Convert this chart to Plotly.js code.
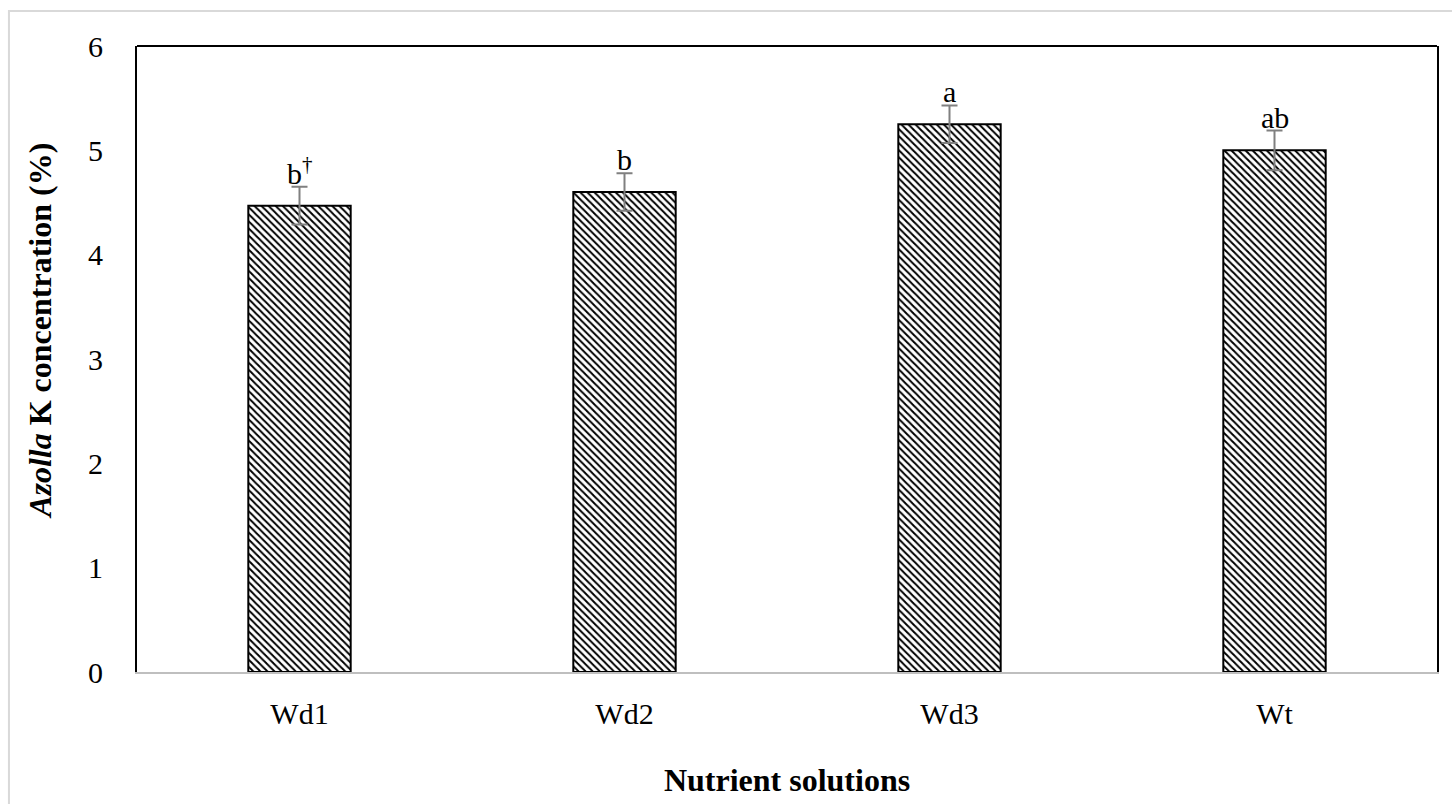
<!DOCTYPE html>
<html>
<head>
<meta charset="utf-8">
<script src="https://cdn.plot.ly/plotly-3.0.1.min.js"></script>
<style>html,body{margin:0;padding:0;background:#fff;}#chart{width:1452px;height:804px;}</style>
</head>
<body>
<div id="chart"></div>
<script>
const categories = ["Wd1", "Wd2", "Wd3", "Wt"];
const kValues = [4.47, 4.60, 5.25, 5.00];
const kErrors = [0.18, 0.18, 0.18, 0.19];
const letters = ["b<sup>†</sup>", "b", "a", "ab"];
const yTicks = [0, 1, 2, 3, 4, 5, 6];

const font = "'Liberation Serif', 'Times New Roman', serif";

const trace = {
  type: "bar",
  x: categories,
  y: kValues,
  width: 0.315,
  marker: {
    color: "#ffffff",
    line: {color: "#000000", width: 2},
    pattern: {shape: "\\", fgcolor: "#000000", bgcolor: "#ffffff", size: 5, solidity: 0.4}
  },
  error_y: {type: "data", array: kErrors, visible: true, color: "#808080", thickness: 2, width: 8},
  hoverinfo: "skip"
};

const annotations = categories.map((c, i) => ({
  x: c, y: kValues[i] + kErrors[i], xref: "x", yref: "y",
  text: letters[i], showarrow: false, yanchor: "bottom", yshift: -5,
  font: {family: font, size: 30, color: "#000"}
}));

annotations.push({
  xref: "paper", yref: "paper", x: -0.0746, y: 0.545,
  xanchor: "center", yanchor: "middle", textangle: -90, showarrow: false,
  text: "<i><b>Azolla</b></i><b> K concentration (%)</b>",
  font: {family: font, size: 32, color: "#000"}
});

const layout = {
  width: 1452, height: 804,
  margin: {l: 137, r: 15, t: 46, b: 132},
  paper_bgcolor: "#ffffff", plot_bgcolor: "#ffffff",
  showlegend: false,
  font: {family: font, size: 30, color: "#000"},
  xaxis: {
    type: "category",
    showline: true, linecolor: "#bfbfbf", linewidth: 2,
    ticks: "", ticklabelstandoff: 14,
    tickfont: {family: font, size: 30, color: "#000"},
    title: {text: "<b>Nutrient solutions</b>", font: {family: font, size: 32, color: "#000"}, standoff: 40}
  },
  yaxis: {
    range: [0, 6], tickvals: yTicks, ticktext: yTicks.map(String),
    showgrid: false, zeroline: false,
    showline: true, linecolor: "#000000", linewidth: 2, mirror: true,
    ticks: "", ticklabelstandoff: 26,
    tickfont: {family: font, size: 30, color: "#000"}
  },
  annotations: annotations,
  shapes: [
    {type: "line", xref: "paper", yref: "paper", x0: 0, x1: 1, y0: 1, y1: 1, line: {color: "#000", width: 2}},
    {type: "rect", xref: "paper", yref: "paper", x0: -0.0985, x1: 1.05, y0: -0.25, y1: 1.056, line: {color: "#d9d9d9", width: 2}, layer: "below"}
  ]
};

Plotly.newPlot("chart", [trace], layout, {displayModeBar: false, staticPlot: true});
</script>
</body>
</html>
